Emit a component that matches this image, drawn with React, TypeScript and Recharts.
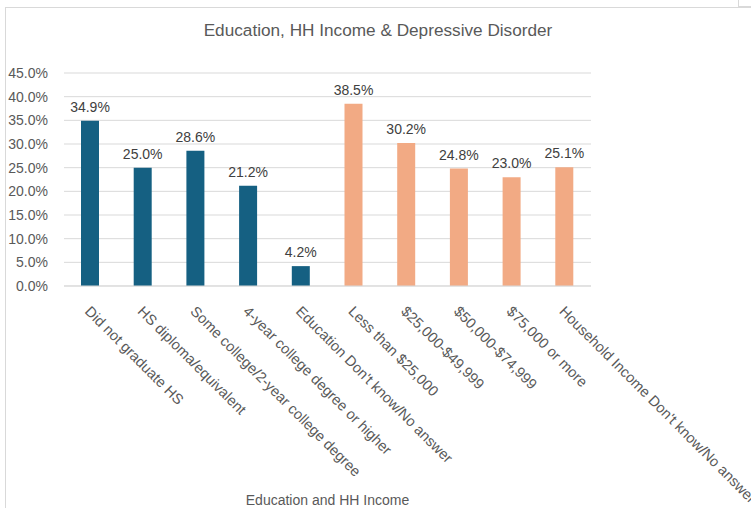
import React from 'react';
import { BarChart, Bar, XAxis, YAxis, CartesianGrid, Cell, LabelList } from 'recharts';

const categories = [
  'Did not graduate HS',
  'HS diploma/equivalent',
  'Some college/2-year college degree',
  '4-year college degree or higher',
  "Education Don't know/No answer",
  'Less than $25,000',
  '$25,000-$49,999',
  '$50,000-$74,999',
  '$75,000 or more',
  "Household Income Don't know/No answer",
];
const values = [34.9, 25.0, 28.6, 21.2, 4.2, 38.5, 30.2, 24.8, 23.0, 25.1];
const educationCount = 5;
const yTicks = [0, 5, 10, 15, 20, 25, 30, 35, 40, 45];

const data = categories.map((name, i) => ({ name, value: values[i] }));

const FONT = '"Liberation Sans", Arial, sans-serif';
const GRAY = '#595959';

const AngledTick = (props: any) => {
  const { x, y, payload } = props;
  return (
    <g transform={`translate(${x + 1},${y + 11})`}>
      <text transform="rotate(45)" textAnchor="start" dy="0.7em" fill={GRAY} fontSize={14.6} fontFamily={FONT}>
        {payload.value}
      </text>
    </g>
  );
};

export default function App() {
  return (
    <div style={{ position: 'absolute', left: 0, top: 0, width: 751, height: 508, overflow: 'hidden', background: '#fff' }}>
      <div style={{ position: 'absolute', left: 5, top: 7, width: 760, height: 520, border: '1px solid #d9d9d9' }} />
      <div style={{ position: 'absolute', left: 738, top: -1, width: 20, height: 6, border: '1px solid #d9d9d9' }} />
      <div style={{ position: 'absolute', left: 5, top: 20, width: 746, textAlign: 'center', fontFamily: FONT, fontSize: 17.2, color: GRAY }}>
        Education, HH Income &amp; Depressive Disorder
      </div>
      <div style={{ position: 'absolute', left: 0, top: 0 }}>
        <BarChart width={751} height={508} data={data} margin={{ top: 73, right: 160, bottom: 0, left: 0 }}>
          <CartesianGrid vertical={false} stroke="#d9d9d9" />
          <XAxis
            dataKey="name"
            interval={0}
            height={222}
            tick={<AngledTick />}
            tickLine={false}
            axisLine={{ stroke: '#d9d9d9' }}
            label={{ value: 'Education and HH Income', position: 'insideBottom', offset: 3, fill: GRAY, fontSize: 14, fontFamily: FONT }}
          />
          <YAxis
            width={64}
            domain={[0, 45]}
            ticks={yTicks}
            tickFormatter={(v: number) => `${v.toFixed(1)}%`}
            axisLine={false}
            tickLine={false}
            tick={{ fill: GRAY, fontSize: 14, fontFamily: FONT }}
            tickMargin={10}
          />
          <Bar dataKey="value" barSize={18} isAnimationActive={false}>
            {data.map((_, i) => (
              <Cell key={i} fill={i < educationCount ? '#156082' : '#F2AA84'} />
            ))}
            <LabelList
              dataKey="value"
              position="top"
              offset={9}
              formatter={(v: any) => `${Number(v).toFixed(1)}%`}
              fill="#404040"
              fontSize={14}
              fontFamily={FONT}
            />
          </Bar>
        </BarChart>
      </div>
    </div>
  );
}
